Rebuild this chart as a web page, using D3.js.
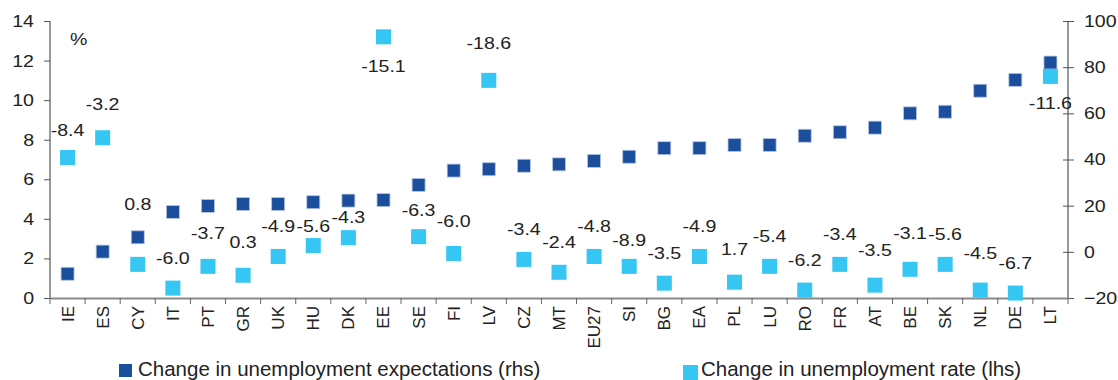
<!DOCTYPE html>
<html>
<head>
<meta charset="utf-8">
<script src="https://cdn.jsdelivr.net/npm/d3@7"></script>
<style>
  html, body { margin: 0; padding: 0; background: #fff; }
  svg { display: block; font-family: "Liberation Sans", Arial, sans-serif; }
</style>
</head>
<body>
<svg id="chart" width="1118" height="380"></svg>
<script>
// ---- data ----
const categories = ["IE","ES","CY","IT","PT","GR","UK","HU","DK","EE","SE","FI","LV","CZ","MT","EU27","SI","BG","EA","PL","LU","RO","FR","AT","BE","SK","NL","DE","LT"];
// Change in unemployment expectations (rhs)
const expectations = [-9.5, 0.1, 6.3, 17.3, 19.9, 20.7, 20.7, 21.5, 22.2, 22.4, 29.0, 35.2, 35.8, 37.3, 37.9, 39.4, 41.2, 44.9, 44.9, 46.3, 46.3, 50.3, 51.8, 53.8, 60.0, 60.7, 69.8, 74.5, 82.0];
// Change in unemployment rate (lhs)
const rate = [7.1, 8.1, 1.7, 0.5, 1.6, 1.15, 2.1, 2.65, 3.05, 13.2, 3.1, 2.25, 11.0, 1.95, 1.3, 2.1, 1.6, 0.75, 2.1, 0.8, 1.6, 0.4, 1.7, 0.65, 1.45, 1.7, 0.4, 0.25, 11.2];
// data labels shown next to the light-blue markers
const rateLabels = [-8.4, -3.2, 0.8, -6.0, -3.7, 0.3, -4.9, -5.6, -4.3, -15.1, -6.3, -6.0, -18.6, -3.4, -2.4, -4.8, -8.9, -3.5, -4.9, 1.7, -5.4, -6.2, -3.4, -3.5, -3.1, -5.6, -4.5, -6.7, -11.6];
const leftTicks = [0, 2, 4, 6, 8, 10, 12, 14];
const rightTicks = [-20, 0, 20, 40, 60, 80, 100];
const seriesNames = ["Change in unemployment expectations (rhs)", "Change in unemployment rate (lhs)"];

// ---- layout / style ----
const DARK = "#1c4e9e", LIGHT = "#35c6f3", TXT = "#222";
const labelShift = {IE:-27, ES:-34, CY:-60, HU:-20, DK:-21, EE:29, SE:-27, LV:-37, SI:-26, AT:-35, BE:-36, NL:-37, LT:27, PT:-33, GR:-33, FI:-32, PL:-33};
const STRETCH = 1.15;

const svg = d3.select("#chart");
const x = d3.scaleBand().domain(categories).range([50, 1068]).padding(0);
const cx = c => x(c) + x.bandwidth() / 2;
const yL = d3.scaleLinear().domain([0, 14]).range([298, 21]);
const yR = d3.scaleLinear().domain([-20, 100]).range([298, 21]);

function stretch(sel) {
  sel.each(function () {
    const w = this.getComputedTextLength();
    d3.select(this).attr("textLength", w * STRETCH).attr("lengthAdjust", "spacingAndGlyphs");
  });
}

// left axis
const gL = svg.append("g").attr("transform", "translate(50,0)")
  .call(d3.axisLeft(yL).tickValues(leftTicks).tickSize(6).tickPadding(10).tickFormat(d3.format("d")));
gL.select(".domain").attr("stroke", "#333").attr("d", `M0,${yL(14)}V${yL(0)}`);
gL.selectAll(".tick line").attr("stroke", "#555");
gL.selectAll(".tick text").attr("font-size", 17).attr("fill", TXT).attr("font-family", "Liberation Sans, Arial, sans-serif").call(stretch);

// right axis
const gR = svg.append("g").attr("transform", "translate(1068,0)")
  .call(d3.axisRight(yR).tickValues(rightTicks).tickSize(6).tickPadding(10).tickFormat(d3.format("d")));
gR.select(".domain").attr("stroke", "#333").attr("d", `M0,${yR(100)}V${yR(-20)}`);
gR.selectAll(".tick line").attr("stroke", "#555").attr("x1", -5);
gR.selectAll(".tick text").attr("font-size", 17).attr("fill", TXT).attr("font-family", "Liberation Sans, Arial, sans-serif").call(stretch);

// bottom axis (category)
const gB = svg.append("g");
gB.append("line").attr("x1", 50).attr("x2", 1068).attr("y1", 298.5).attr("y2", 298.5)
  .attr("stroke", "#8a8a8a").attr("stroke-width", 2);
gB.selectAll("line.tk").data(categories.concat(["__end"])).join("line").attr("class", "tk")
  .attr("x1", (d, i) => i < categories.length ? x(d) : 1068)
  .attr("x2", (d, i) => i < categories.length ? x(d) : 1068)
  .attr("y1", 298).attr("y2", 304).attr("stroke", "#666").attr("stroke-width", 1);
gB.selectAll("text.cat").data(categories).join("text").attr("class", "cat")
  .attr("transform", d => `translate(${cx(d)},306) rotate(-90)`)
  .attr("text-anchor", "end").attr("dy", "0.35em")
  .attr("font-size", 17).attr("fill", TXT).text(d => d);

// "%" unit
svg.append("text").attr("x", 70).attr("y", 45).attr("font-size", 17).attr("fill", TXT).text("%").call(stretch);

// dark series (rhs)
const sD = 13, sL = 15;
svg.append("g").selectAll("rect").data(categories).join("rect")
  .attr("x", d => cx(d) - sD / 2)
  .attr("y", (d, i) => yR(expectations[i]) - sD / 2)
  .attr("width", sD).attr("height", sD)
  .attr("fill", DARK).attr("stroke", "#b9c8e3").attr("stroke-width", 0.8);

// light series (lhs)
svg.append("g").selectAll("rect").data(categories).join("rect")
  .attr("x", d => cx(d) - sL / 2)
  .attr("y", (d, i) => yL(rate[i]) - sL / 2)
  .attr("width", sL).attr("height", sL)
  .attr("fill", LIGHT);

// data labels
svg.append("g").selectAll("text").data(categories).join("text")
  .attr("x", d => cx(d))
  .attr("y", (d, i) => yL(rate[i]) + (labelShift[d] !== undefined ? labelShift[d] : -30))
  .attr("dy", "0.35em")
  .attr("text-anchor", "middle")
  .attr("font-size", 17).attr("fill", TXT)
  .text((d, i) => d3.format(".1f")(rateLabels[i]).replace("−", "-"))
  .call(stretch);

// legend
const leg = svg.append("g");
leg.append("rect").attr("x", 119).attr("y", 364).attr("width", 13).attr("height", 13).attr("fill", DARK);
leg.append("text").attr("x", 138).attr("y", 376).attr("font-size", 20.5).attr("fill", TXT).text(seriesNames[0]);
leg.append("rect").attr("x", 683).attr("y", 365).attr("width", 15).attr("height", 15).attr("fill", LIGHT);
leg.append("text").attr("x", 701).attr("y", 376).attr("font-size", 20.5).attr("fill", TXT).text(seriesNames[1]);
</script>
</body>
</html>
